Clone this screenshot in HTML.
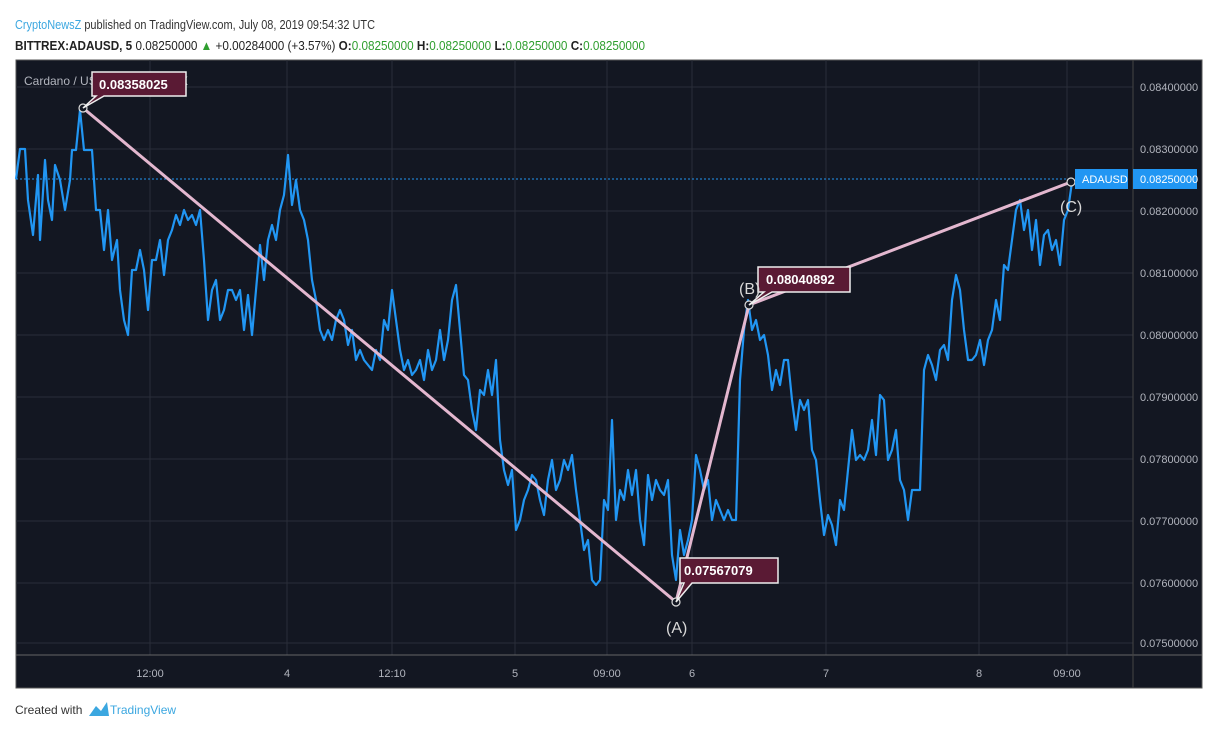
<!DOCTYPE html>
<html><head><meta charset="utf-8"><style>
body{margin:0;background:#fff;width:1220px;height:740px;overflow:hidden;font-family:"Liberation Sans",sans-serif}
</style></head><body>
<svg width="1220" height="740" xmlns="http://www.w3.org/2000/svg" font-family="Liberation Sans, sans-serif">
<text x="15" y="29" font-size="13" fill="#333" textLength="360" lengthAdjust="spacingAndGlyphs"><tspan fill="#3ba7e0">CryptoNewsZ</tspan> published on TradingView.com, July 08, 2019 09:54:32 UTC</text>
<text x="15" y="50" font-size="13" fill="#222" textLength="630" lengthAdjust="spacingAndGlyphs"><tspan font-weight="bold">BITTREX:ADAUSD, 5</tspan> 0.08250000 <tspan fill="#2e9e2e">▲</tspan> +0.00284000 (+3.57%) <tspan font-weight="bold">O:</tspan><tspan fill="#2e9e2e">0.08250000</tspan> <tspan font-weight="bold">H:</tspan><tspan fill="#2e9e2e">0.08250000</tspan> <tspan font-weight="bold">L:</tspan><tspan fill="#2e9e2e">0.08250000</tspan> <tspan font-weight="bold">C:</tspan><tspan fill="#2e9e2e">0.08250000</tspan></text>
<rect x="16" y="60" width="1186" height="628" fill="#131722" stroke="#555" stroke-width="1"/>
<g stroke="#2a2e39" stroke-width="1">
<line x1="150" y1="60" x2="150" y2="655"/><line x1="287" y1="60" x2="287" y2="655"/><line x1="392" y1="60" x2="392" y2="655"/><line x1="515" y1="60" x2="515" y2="655"/><line x1="607" y1="60" x2="607" y2="655"/><line x1="692" y1="60" x2="692" y2="655"/><line x1="826" y1="60" x2="826" y2="655"/><line x1="979" y1="60" x2="979" y2="655"/><line x1="1067" y1="60" x2="1067" y2="655"/>
<line x1="16" y1="87" x2="1133" y2="87"/><line x1="16" y1="149" x2="1133" y2="149"/><line x1="16" y1="211" x2="1133" y2="211"/><line x1="16" y1="273" x2="1133" y2="273"/><line x1="16" y1="335" x2="1133" y2="335"/><line x1="16" y1="397" x2="1133" y2="397"/><line x1="16" y1="459" x2="1133" y2="459"/><line x1="16" y1="521" x2="1133" y2="521"/><line x1="16" y1="583" x2="1133" y2="583"/><line x1="16" y1="643" x2="1133" y2="643"/>
</g>
<line x1="16" y1="655" x2="1202" y2="655" stroke="#666"/>
<line x1="1133" y1="60" x2="1133" y2="688" stroke="#444"/>
<g font-size="11" fill="#b2b5be">
<text x="1140" y="91">0.08400000</text><text x="1140" y="153">0.08300000</text><text x="1140" y="215">0.08200000</text><text x="1140" y="277">0.08100000</text><text x="1140" y="339">0.08000000</text><text x="1140" y="401">0.07900000</text><text x="1140" y="463">0.07800000</text><text x="1140" y="525">0.07700000</text><text x="1140" y="587">0.07600000</text><text x="1140" y="647">0.07500000</text>
<g text-anchor="middle"><text x="150" y="677">12:00</text><text x="287" y="677">4</text><text x="392" y="677">12:10</text><text x="515" y="677">5</text><text x="607" y="677">09:00</text><text x="692" y="677">6</text><text x="826" y="677">7</text><text x="979" y="677">8</text><text x="1067" y="677">09:00</text></g>
<text x="24" y="85" font-size="12">Cardano / US Dollar, BITTREX</text>
</g>
<line x1="16" y1="179" x2="1072" y2="179" stroke="#2196f3" stroke-dasharray="2,2"/>
<polyline fill="none" stroke="#2196f3" stroke-width="2.2" stroke-linejoin="round" points="16,179 20,149 25,149 28,200 33,235 38,175 40,240 45,160 48,200 52,220 55,165 60,180 65,210 70,180 72,150 76,150 80,110 84,150 92,150 96,210 100,210 104,250 108,210 112,260 117,240 120,290 124,320 128,335 132,270 136,270 140,250 144,270 148,310 152,260 156,260 160,240 164,275 168,240 172,230 176,215 180,225 184,210 188,220 192,215 196,225 200,210 204,260 208,320 212,290 216,280 220,320 224,310 228,290 232,290 236,300 240,290 244,330 248,295 252,335 256,290 260,245 264,280 268,240 272,225 276,240 280,210 284,195 288,155 292,205 296,180 300,210 304,220 308,240 312,280 316,300 320,330 324,340 328,330 332,340 336,320 340,310 344,320 348,345 352,330 356,360 360,350 364,360 368,365 372,370 376,350 380,360 384,320 388,330 392,290 396,320 400,350 404,370 408,360 412,375 416,370 420,360 424,380 428,350 432,370 436,360 440,330 444,360 448,340 452,300 456,285 460,330 464,375 468,380 472,410 476,430 480,390 484,395 488,370 492,395 496,360 500,440 504,470 508,485 512,470 516,530 520,520 524,500 528,490 532,475 536,480 540,500 544,515 548,480 552,460 556,490 560,480 564,460 568,470 572,455 576,490 580,520 584,550 588,540 592,580 596,585 600,580 604,500 608,510 612,420 616,520 620,490 624,500 628,470 632,495 636,470 640,520 644,545 648,475 652,500 656,480 660,490 664,495 668,480 672,555 676,580 680,530 684,555 688,540 692,520 696,455 700,470 704,490 708,480 712,520 716,500 720,510 724,520 728,510 732,520 736,520 740,380 744,330 748,300 752,330 756,320 760,340 764,335 768,355 772,390 776,370 780,385 784,360 788,360 792,400 796,430 800,400 804,410 808,400 812,450 816,460 820,500 824,535 828,515 832,525 836,545 840,500 844,510 848,470 852,430 856,460 860,455 864,460 868,450 872,420 876,455 880,395 884,400 888,460 892,450 896,430 900,480 904,490 908,520 912,490 916,490 920,490 924,370 928,355 932,365 936,380 940,350 944,345 948,360 952,300 956,275 960,290 964,330 968,360 972,360 976,355 980,340 984,365 988,340 992,330 996,300 1000,320 1004,265 1008,270 1012,240 1016,210 1020,200 1024,230 1028,210 1032,250 1036,220 1040,265 1044,235 1048,230 1052,250 1056,240 1060,265 1064,220 1068,210 1072,182"/>
<polyline fill="none" stroke="#e3b7cf" stroke-width="3" points="83,108 676,602 749,305 1071,182"/>
<g fill="#131722" stroke="#ddd" stroke-width="1.2"><circle cx="83" cy="108" r="4"/><circle cx="676" cy="602" r="4"/><circle cx="749" cy="305" r="4"/><circle cx="1071" cy="182" r="4"/></g>
<g stroke="#eee" stroke-width="1.5" fill="#5a1a34">
<path d="M83,108 L96,96 L92,96 L92,72 L186,72 L186,96 L104,96 Z"/>
<path d="M676,602 L684,583 L680,583 L680,558 L778,558 L778,583 L692,583 Z"/>
<path d="M749,305 L764,292 L758,292 L758,267 L850,267 L850,292 L772,292 Z"/>
</g>
<g font-size="13" font-weight="bold" fill="#fff"><text x="99" y="89">0.08358025</text><text x="684" y="575">0.07567079</text><text x="766" y="284">0.08040892</text></g>
<g font-size="16" fill="#d8d8d8"><text x="666" y="633">(A)</text><text x="739" y="294">(B)</text><text x="1060" y="212">(C)</text></g>
<rect x="1075" y="169" width="53" height="20" fill="#2196f3"/>
<text x="1082" y="183" font-size="11" fill="#fff">ADAUSD</text>
<rect x="1133" y="169" width="64" height="20" fill="#2196f3"/>
<text x="1140" y="183" font-size="11" fill="#fff">0.08250000</text>
<text x="15" y="714" font-size="12" fill="#333">Created with</text>
<path d="M89,716 L96,706 L101,711 L107,702 L109,716 Z" fill="#3ba7e0"/>
<text x="110" y="714" font-size="12" fill="#3ba7e0">TradingView</text>
</svg>
</body></html>
